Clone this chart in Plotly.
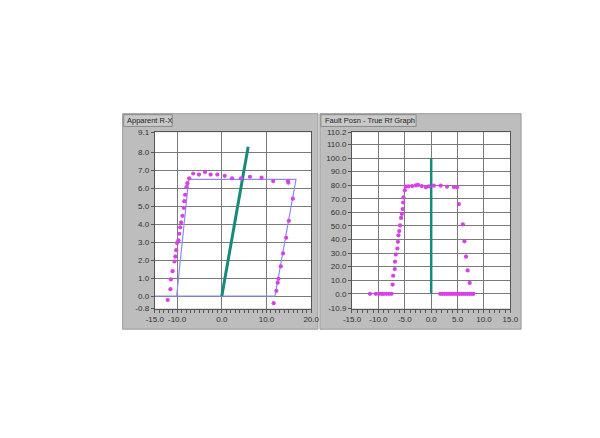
import plotly.graph_objects as go

# ---------- Left chart: Apparent R-X ----------
rx_pts_x = [-12.1, -11.5, -11.4, -11.0, -10.6, -10.4, -10.2, -10.0, -9.7, -9.5, -9.3, -9.1,
            -8.8, -8.5, -8.4, -8.2, -7.9, -7.7, -7.3,
            -6.4, -5.1, -3.75, -2.5, -1.0, 0.66, 2.3, 4.3, 6.3, 8.9, 11.5, 14.8, 14.9,
            15.9, 15.0, 14.4, 13.7, 13.2, 12.7, 12.5, 12.2, 11.6]
rx_pts_y = [-0.22, 0.38, 0.92, 1.38, 1.92, 2.19, 2.55, 2.95, 3.1, 3.46, 3.82, 4.09,
            4.46, 4.9, 5.27, 5.63, 6.05, 6.27, 6.54,
            6.81, 6.75, 6.9, 6.75, 6.75, 6.68, 6.54, 6.54, 6.63, 6.58, 6.39, 6.39, 6.3,
            5.41, 4.18, 3.24, 2.37, 1.65, 0.96, 0.74, 0.29, -0.4]
zone_x = [-15, 11.9, 16.6, -7.4, -10.1]
zone_y = [0, 0, 6.48, 6.48, 0]
line_rx_x = [0, 5.9]
line_rx_y = [0, 8.3]

# ---------- Right chart: Fault Posn - True Rf ----------
rf_x = [-11.6, -10.5, -9.9, -9.4, -9.0, -8.5, -8.0, -7.5,
        -7.3, -7.2, -6.9, -6.85, -6.7, -6.4, -6.3, -6.2, -6.05, -5.9, -5.7, -5.55, -5.4, -5.3, -5.25, -5.0, -4.8,
        -4.3, -3.6, -2.9, -2.5, -1.8, -1.0, -0.4, 0.5, 1.8, 3.0, 4.3, 4.9,
        5.25, 6.0, 6.3, 6.6, 6.9, 7.3,
        1.7, 2.1, 2.5, 2.9, 3.3, 3.7, 4.1, 4.5, 4.9, 5.3, 5.7, 6.1, 6.5, 6.9, 7.3, 7.7, 8.0]
rf_y = [0, 0, 0, 0, 0, 0, 0, 0,
        6.8, 13.3, 18.2, 23.7, 29.0, 33.4, 38.3, 43.1, 46.2, 50.4, 55.9, 58.8, 62.5, 67.3, 71.0, 76.3, 79.0,
        79.2, 79.4, 79.9, 80.2, 79.4, 78.5, 79.2, 79.7, 79.7, 78.9, 78.7, 78.5,
        66.1, 51.1, 38.7, 27.4, 17.2, 8.0,
        0, 0, 0, 0, 0, 0, 0, 0, 0, 0, 0, 0, 0, 0, 0, 0, 0]
line_rf_x = [0, 0]
line_rf_y = [0, 100]

left_yvals = [9.1, 8, 7, 6, 5, 4, 3, 2, 1, 0, -0.7]
left_ytext = ["9.1", "8.0", "7.0", "6.0", "5.0", "4.0", "3.0", "2.0", "1.0", "0.0", "-0.8"]
left_xvals = [-15, -10, 0, 10, 20]
left_xtext = ["-15.0", "-10.0", "0.0", "10.0", "20.0"]
right_yvals = [119, 110, 100, 90, 80, 70, 60, 50, 40, 30, 20, 10, 0, -10.9]
right_ytext = ["110.2", "110.0", "100.0", "90.0", "80.0", "70.0", "60.0", "50.0", "40.0",
               "30.0", "20.0", "10.0", "0.0", "-10.9"]
right_xvals = [-15, -10, -5, 0, 5, 10, 15]
right_xtext = ["-15.0", "-10.0", "-5.0", "0.0", "5.0", "10.0", "15.0"]

MAG = "#d840e8"
TEAL = "#168a7c"
ZONE = "#8c8cf0"

fig = go.Figure()
fig.add_trace(go.Scatter(x=zone_x, y=zone_y, mode="lines", line=dict(color=ZONE, width=1.2),
                         xaxis="x", yaxis="y", hoverinfo="skip"))
fig.add_trace(go.Scatter(x=line_rx_x, y=line_rx_y, mode="lines", line=dict(color=TEAL, width=3),
                         xaxis="x", yaxis="y"))
fig.add_trace(go.Scatter(x=rx_pts_x, y=rx_pts_y, mode="markers",
                         marker=dict(color=MAG, size=4.2), xaxis="x", yaxis="y"))
fig.add_trace(go.Scatter(x=line_rf_x, y=line_rf_y, mode="lines", line=dict(color=TEAL, width=2.5),
                         xaxis="x2", yaxis="y2"))
fig.add_trace(go.Scatter(x=rf_x, y=rf_y, mode="markers",
                         marker=dict(color=MAG, size=4.2), xaxis="x2", yaxis="y2"))

W, H = 600, 438
def px(x): return x / W
def py(y): return 1 - y / H

L_X0, L_X1, R_X0, R_X1 = 150, 311, 353, 516
Y_TOP, Y_BOT = 131, 311

axis_font = dict(family="Liberation Sans, Arial, sans-serif", size=8, color="#333333")
tab_font = dict(family="Liberation Sans, Arial, sans-serif", size=7.5, color="#222222")
common = dict(showline=True, linecolor="#555555", linewidth=1, mirror=True, zeroline=False,
              gridcolor="#7a7a7a", gridwidth=1, ticks="outside", ticklen=3, tickcolor="#555555",
              tickfont=axis_font, fixedrange=True)

shapes = [
    dict(type="rect", xref="paper", yref="paper", x0=px(117), x1=px(318), y0=py(332), y1=py(112),
         fillcolor="#bdbdbd", line=dict(color="#9a9a9a", width=1), layer="below"),
    dict(type="rect", xref="paper", yref="paper", x0=px(320), x1=px(527), y0=py(332), y1=py(112),
         fillcolor="#bdbdbd", line=dict(color="#9a9a9a", width=1), layer="below"),
    dict(type="rect", xref="paper", yref="paper", x0=px(118), x1=px(168), y0=py(125), y1=py(113),
         fillcolor="#c9c9c9", line=dict(color="#8a8a8a", width=1), layer="below"),
    dict(type="rect", xref="paper", yref="paper", x0=px(321), x1=px(419), y0=py(125), y1=py(113),
         fillcolor="#c9c9c9", line=dict(color="#8a8a8a", width=1), layer="below"),
    dict(type="rect", xref="paper", yref="paper", x0=px(L_X0), x1=px(L_X1), y0=py(Y_BOT), y1=py(Y_TOP),
         fillcolor="white", line=dict(width=0), layer="below"),
    dict(type="rect", xref="paper", yref="paper", x0=px(R_X0), x1=px(R_X1), y0=py(Y_BOT), y1=py(Y_TOP),
         fillcolor="white", line=dict(width=0), layer="below"),
]

annotations = [
    dict(text="Apparent R-X", xref="paper", yref="paper", x=px(119), y=py(119), xanchor="left",
         yanchor="middle", showarrow=False, font=tab_font),
    dict(text="Fault Posn - True Rf Graph", xref="paper", yref="paper", x=px(323), y=py(119),
         xanchor="left", yanchor="middle", showarrow=False, font=tab_font),
]

fig.update_layout(
    width=W, height=H, margin=dict(l=0, r=0, t=0, b=0),
    paper_bgcolor="white", plot_bgcolor="rgba(0,0,0,0)", showlegend=False,
    shapes=shapes, annotations=annotations,
    xaxis=dict(domain=[px(L_X0), px(L_X1)], range=[-15, 20], tickvals=left_xvals, ticktext=left_xtext,
               anchor="y", minor=dict(dtick=1, tick0=0, ticks="outside", ticklen=3, tickcolor="#555", showgrid=False),
               **common),
    yaxis=dict(domain=[py(Y_BOT), py(Y_TOP)], range=[-0.7, 9.1], tickvals=left_yvals, ticktext=left_ytext,
               anchor="x", **common),
    xaxis2=dict(domain=[px(R_X0), px(R_X1)], range=[-15, 15], tickvals=right_xvals, ticktext=right_xtext,
                anchor="y2", minor=dict(dtick=1, tick0=0, ticks="outside", ticklen=3, tickcolor="#555", showgrid=False),
                **common),
    yaxis2=dict(domain=[py(Y_BOT), py(Y_TOP)], range=[-10.9, 119], tickvals=right_yvals, ticktext=right_ytext,
                anchor="x2", **common),
)

fig.write_html("out.html", config={"displayModeBar": False},
               post_script="document.body.style.margin='0';document.body.style.overflow='hidden';")
